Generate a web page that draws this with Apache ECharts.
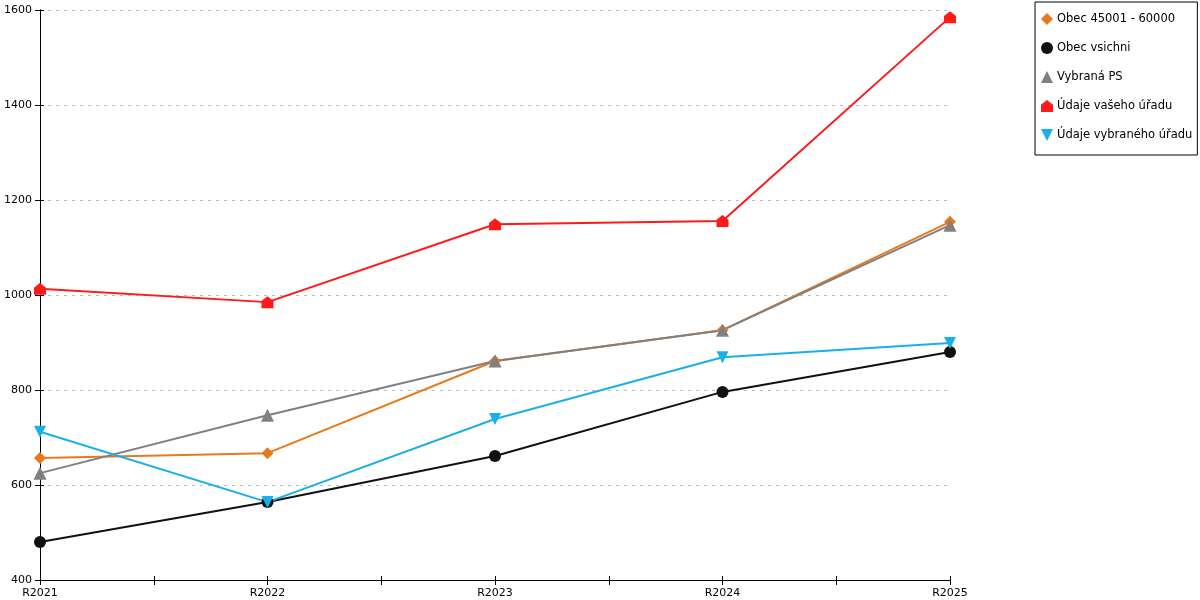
<!DOCTYPE html>
<html>
<head>
<meta charset="utf-8">
<script src="https://cdn.jsdelivr.net/npm/echarts@6/dist/echarts.min.js"></script>
<style>
  html, body {margin: 0; padding: 0; background: #fff;}
  #main {width: 1200px; height: 600px;}
</style>
</head>
<body>
<div id="main"></div>
<script>
  var years = ['R2021', 'R2022', 'R2023', 'R2024', 'R2025'];
  var names = ['Obec 45001 - 60000', 'Obec vsichni', 'Vybraná PS', 'Údaje vašeho úřadu', 'Údaje vybraného úřadu'];
  var obec45 = [657, 667, 861, 926, 1154];
  var obecVse = [480, 564, 661, 796, 880];
  var vybranaPS = [625, 747, 861, 926, 1147];
  var vasUrad = [1013, 985, 1149, 1156, 1585];
  var vybranyUrad = [712, 564, 739, 869, 899];
  var yTicks = [400, 600, 800, 1000, 1200, 1400, 1600];

  var colors = ['#e87a1e', '#111111', '#808080', '#ff1a1a', '#18b0e8'];
  var house = 'path://M0,4 L5,0 L10,4 L10,10 L0,10 Z';
  var symbols = ['diamond', 'circle', 'triangle', house, 'path://M0,0 L10,0 L5,10 Z'];
  var sizes = [12, 12, 13, 12, 12];
  var values = [obec45, obecVse, vybranaPS, vasUrad, vybranyUrad];

  function pairs(arr) {
    return arr.map(function (v, i) { return [i, v]; });
  }

  var chart = echarts.init(document.getElementById('main'));
  var font = 'DejaVu Sans';
  var yMin = yTicks[0], yMax = yTicks[yTicks.length - 1], yStep = yTicks[1] - yTicks[0];

  chart.setOption({
    animation: false,
    textStyle: {fontFamily: font},
    grid: {left: 40, right: 250, top: 10, bottom: 20, containLabel: false},
    legend: {
      orient: 'vertical',
      left: 1035, top: 2,
      padding: [11, 5, 14, 6],
      borderColor: '#000', borderWidth: 1,
      itemWidth: 12, itemHeight: 12, itemGap: 17,
      textStyle: {fontFamily: font, fontSize: 11.5, color: '#000', padding: [0, 0, 0, -1]},
      data: names.map(function (n, i) { return {name: n, icon: symbols[i]}; })
    },
    xAxis: [{
      type: 'value', min: 0, max: years.length - 1, interval: 0.5,
      axisLine: {lineStyle: {color: '#000', width: 1}},
      axisTick: {show: true, length: 5, lineStyle: {color: '#000'}},
      axisLabel: {
        fontSize: 11, color: '#000', margin: 8,
        formatter: function (v) { return v % 1 === 0 ? years[v] : ''; }
      },
      splitLine: {show: false}
    }, {
      type: 'value', min: 0, max: years.length - 1, interval: 0.5, position: 'bottom',
      axisLine: {show: false},
      axisTick: {show: true, inside: true, length: 4, lineStyle: {color: '#000'}},
      axisLabel: {show: false},
      splitLine: {show: false}
    }],
    yAxis: [{
      type: 'value', min: yMin, max: yMax, interval: yStep,
      axisLine: {show: true, lineStyle: {color: '#000', width: 1}},
      axisTick: {show: true, length: 5, lineStyle: {color: '#000'}},
      axisLabel: {fontSize: 11, color: '#000', margin: 8, formatter: function (v) { return String(v); }},
      splitLine: {show: true, lineStyle: {color: '#bbbbbb', type: [3, 5], width: 1}}
    }, {
      type: 'value', min: yMin, max: yMax, interval: yStep, position: 'right',
      axisLine: {show: true, lineStyle: {color: '#000', width: 1}},
      axisTick: {show: false}, axisLabel: {show: false}, splitLine: {show: false}
    }, {
      type: 'value', min: yMin, max: yMax, interval: yStep, position: 'left',
      axisLine: {show: false},
      axisTick: {show: true, inside: true, length: 4, lineStyle: {color: '#000'}},
      axisLabel: {show: false}, splitLine: {show: false}
    }],
    series: names.map(function (n, i) {
      return {
        type: 'line',
        name: n,
        data: pairs(values[i]),
        symbol: symbols[i],
        symbolSize: sizes[i],
        showAllSymbol: true,
        color: colors[i],
        lineStyle: {width: 2, color: colors[i]},
        itemStyle: {color: colors[i]}
      };
    })
  });
</script>
</body>
</html>
